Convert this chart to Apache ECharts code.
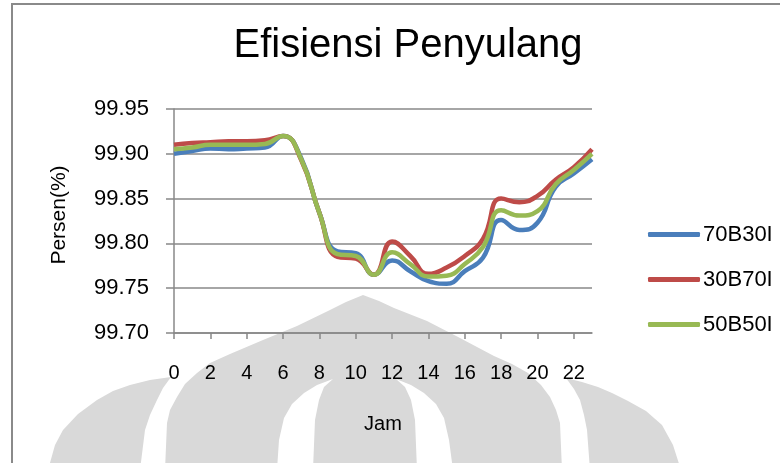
<!DOCTYPE html>
<html>
<head>
<meta charset="utf-8">
<script src="https://cdn.jsdelivr.net/npm/echarts@6/dist/echarts.min.js"></script>
<style>
    html, body { margin: 0; padding: 0; background: #fff; }
    #chart { width: 780px; height: 463px; }
</style>
</head>
<body>
<div id="chart"></div>
<script>
var hours = ['0', '1', '2', '3', '4', '5', '6', '7', '8', '9', '10', '11',
    '12', '13', '14', '15', '16', '17', '18', '19', '20', '21', '22', '23'];

var seriesNames = ['70B30I', '30B70I', '50B50I'];

var eff70B30I = [99.900, 99.903, 99.906, 99.905, 99.906, 99.907, 99.920, 99.895,
    99.834, 99.791, 99.789, 99.765, 99.781, 99.769, 99.758, 99.755,
    99.769, 99.784, 99.826, 99.815, 99.823, 99.863, 99.878, 99.894];

var eff30B70I = [99.910, 99.912, 99.913, 99.914, 99.914, 99.915, 99.920, 99.893,
    99.834, 99.785, 99.783, 99.765, 99.802, 99.786, 99.766, 99.773,
    99.786, 99.805, 99.850, 99.846, 99.853, 99.871, 99.885, 99.905];

var eff50B50I = [99.905, 99.907, 99.910, 99.910, 99.910, 99.911, 99.920, 99.894,
    99.834, 99.788, 99.786, 99.765, 99.790, 99.777, 99.763, 99.764,
    99.777, 99.796, 99.837, 99.831, 99.836, 99.866, 99.882, 99.900];

var colors = ['#4a7ebb', '#be4b48', '#98b954'];

var font = "'Liberation Sans', Arial, sans-serif";
var wm = '#d9d9d9';

// pieces of the faint logo watermark that sits behind the chart
function wmPiece(points, fill, z) {
    return {
        type: 'polygon',
        z: z,
        silent: true,
        shape: { points: points },
        style: { fill: fill }
    };
}

var mountain = [[363, 295], [346, 302], [330, 310], [297, 326], [263, 340], [230, 354],
    [210, 363], [197, 373], [185, 384], [177, 397], [170, 410], [167, 423], [165, 470],
    [562, 470], [560, 423], [556, 410], [550, 397], [541, 385], [528, 373], [512, 364],
    [494, 356], [460, 338], [427, 321], [394, 308], [379, 301]];
var petalLeft = [[48, 470], [55, 445], [63, 430], [78, 414], [97, 400], [113, 391],
    [130, 385], [150, 380], [171, 377], [163, 388], [157, 400], [150, 415],
    [145, 430], [140, 470]];
var petalRight = [[681, 470], [673, 445], [662, 425], [646, 411], [628, 401],
    [612, 393], [598, 387], [582, 382], [566, 378], [574, 389], [580, 400],
    [584, 415], [587, 430], [590, 470]];
var gapLeft = [[277, 470], [279, 440], [284, 418], [292, 404], [304, 393], [317, 385],
    [333, 379], [324, 387], [319, 400], [315, 420], [313, 470]];
var gapRight = [[453, 470], [449, 440], [444, 418], [436, 404], [424, 393], [411, 385],
    [396, 379], [405, 387], [411, 400], [415, 420], [417, 470]];

var chart = echarts.init(document.getElementById('chart'), null, { renderer: 'canvas' });

var lines = [eff70B30I, eff30B70I, eff50B50I].map(function (vals, i) {
    return {
        name: seriesNames[i],
        type: 'line',
        data: vals,
        smooth: true,
        showSymbol: false,
        symbol: 'none',
        lineStyle: { width: 4.5, color: colors[i] },
        itemStyle: { color: colors[i] },
        z: 2 + i
    };
});

var option = {
    backgroundColor: '#fff',
    animation: false,
    color: colors,
    title: {
        text: 'Efisiensi Penyulang',
        left: 403,
        textAlign: 'center',
        top: 21,
        textStyle: { fontFamily: font, fontWeight: 'normal', fontSize: 40, color: '#000' }
    },
    legend: {
        orient: 'vertical',
        left: 643,
        top: 217,
        itemWidth: 52,
        itemHeight: 5,
        itemGap: 20,
        icon: 'roundRect',
        textStyle: { fontFamily: font, fontSize: 22, color: '#000', lineHeight: 25, padding: [0, 0, 0, -2] },
        data: seriesNames
    },
    grid: { left: 174, right: 188, top: 109, bottom: 130 },
    xAxis: {
        type: 'category',
        data: hours,
        boundaryGap: false,
        name: 'Jam',
        nameLocation: 'middle',
        nameGap: 81,
        nameTextStyle: { fontFamily: font, fontSize: 20, color: '#000' },
        axisLine: { lineStyle: { color: '#888', width: 1.5 } },
        axisTick: { interval: 1, length: 6, lineStyle: { color: '#888', width: 1.5 } },
        axisLabel: { interval: 1, margin: 30, fontFamily: font, fontSize: 20, color: '#000' },
        splitLine: { show: false }
    },
    yAxis: {
        type: 'value',
        min: 99.70,
        max: 99.95,
        interval: 0.05,
        name: 'Persen(%)',
        nameLocation: 'middle',
        nameRotate: 90,
        nameGap: 104,
        nameTextStyle: { fontFamily: font, fontSize: 21, color: '#000', padding: [0, 0, 0, 12] },
        axisLine: { show: true, lineStyle: { color: '#888', width: 1.5 } },
        axisTick: { show: true, length: 8, lineStyle: { color: '#888', width: 1.5 } },
        axisLabel: {
            margin: 25, fontFamily: font, fontSize: 22, color: '#000',
            formatter: function (v) { return v.toFixed(2); }
        },
        splitLine: { lineStyle: { color: '#888', width: 1.5 } }
    },
    graphic: [
        {
            // chart frame, only the left and top edges fall inside the picture
            type: 'rect',
            z: -10,
            silent: true,
            shape: { x: 12, y: 4, width: 820, height: 520 },
            style: { fill: null, stroke: '#8a8a8a', lineWidth: 2 }
        },
        wmPiece(mountain, wm, -9),
        wmPiece(petalLeft, wm, -9),
        wmPiece(petalRight, wm, -9),
        wmPiece(gapLeft, '#fff', -8),
        wmPiece(gapRight, '#fff', -8)
    ],
    series: lines
};

chart.setOption(option);
</script>
</body>
</html>
